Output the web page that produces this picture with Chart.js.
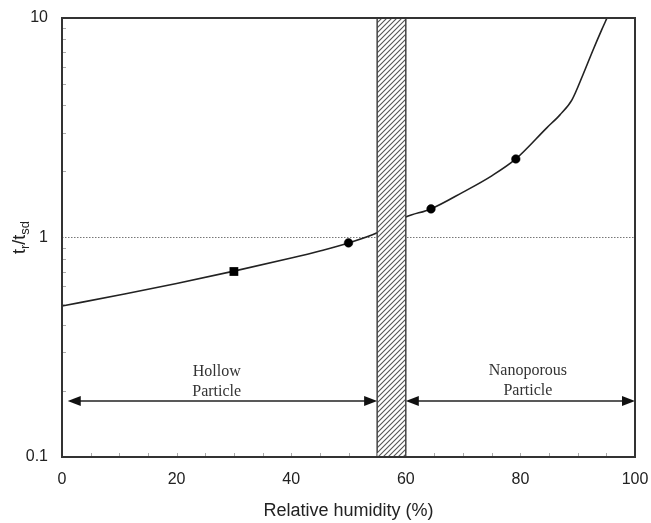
<!DOCTYPE html>
<html>
<head>
<meta charset="utf-8">
<script src="https://cdn.jsdelivr.net/npm/chart.js@4/dist/chart.umd.min.js"></script>
<style>
  html, body { margin: 0; padding: 0; background: #fff; }
  #wrap { width: 651px; height: 523px; }
</style>
</head>
<body>
<div id="wrap"><canvas id="chart" width="651" height="523"></canvas></div>
<script>
// Drying-time ratio curve versus relative humidity
const humidity = [0, 10, 20, 30, 40, 45, 50, 55, 60, 64.4, 70, 75, 79.2, 84.6, 86.9, 89, 90.9, 92.7, 94.2, 95.1];
const timeRatio = [0.487, 0.547, 0.617, 0.703, 0.806, 0.868, 0.944, 1.05, 1.24, 1.35, 1.61, 1.91, 2.28, 3.16, 3.62, 4.24, 5.5, 7.17, 8.85, 9.98];

// Measured points
const squareX = [30];
const squareY = [0.70];
const circleX = [50, 64.4, 79.2];
const circleY = [0.945, 1.35, 2.28];

// Reference line at ratio = 1
const refX = [0, 100];
const refY = [1, 1];

// Transition band and morphology regions
const bandRange = [55, 60];
const hollowRange = [1, 55];
const nanoRange = [60, 100];
const arrowLevel = [0.18];
const hollowLabel = ['Hollow', 'Particle'];
const nanoLabel = ['Nanoporous', 'Particle'];
const hollowLabelX = [27];
const nanoLabelX = [81.3];

// Axis ticks
const xTicks = [0, 20, 40, 60, 80, 100];
const yTicks = [0.1, 1, 10];
const xMinorStep = 5;
const yMinorMultipliers = [2, 3, 4, 5, 6, 7, 8, 9];

const xTitle = 'Relative humidity (%)';

function pts(xs, ys) { return xs.map((x, i) => ({ x: x, y: ys[i] })); }

function makeHatch(ctx) {
  const c = document.createElement('canvas');
  c.width = 5; c.height = 5;
  const g = c.getContext('2d');
  g.fillStyle = '#ffffff';
  g.fillRect(0, 0, 5, 5);
  g.strokeStyle = '#555555';
  g.lineWidth = 1.1;
  g.beginPath();
  g.moveTo(-1, 6); g.lineTo(6, -1);
  g.moveTo(-1, 1); g.lineTo(1, -1);
  g.moveTo(4, 6); g.lineTo(6, 4);
  g.stroke();
  return ctx.createPattern(c, 'repeat');
}

const overlay = {
  id: 'overlay',
  afterDatasetsDraw(chart) {
    const ctx = chart.ctx;
    const xs = chart.scales.x, ys = chart.scales.y;
    const area = chart.chartArea;
    ctx.save();

    // hatched transition band
    const bx0 = xs.getPixelForValue(bandRange[0]);
    const bx1 = xs.getPixelForValue(bandRange[1]);
    ctx.fillStyle = makeHatch(ctx);
    ctx.fillRect(bx0, area.top, bx1 - bx0, area.bottom - area.top);
    ctx.strokeStyle = '#444';
    ctx.lineWidth = 1.5;
    ctx.strokeRect(bx0, area.top, bx1 - bx0, area.bottom - area.top);

    // region arrows
    const ay = ys.getPixelForValue(arrowLevel[0]);
    function arrow(r) {
      const x0 = xs.getPixelForValue(r[0]);
      const x1 = xs.getPixelForValue(r[1]);
      const hl = 13, hw = 5;
      ctx.strokeStyle = '#222';
      ctx.fillStyle = '#111';
      ctx.lineWidth = 1.5;
      ctx.beginPath();
      ctx.moveTo(x0 + hl - 1, ay); ctx.lineTo(x1 - hl + 1, ay);
      ctx.stroke();
      ctx.beginPath();
      ctx.moveTo(x0, ay); ctx.lineTo(x0 + hl, ay - hw); ctx.lineTo(x0 + hl, ay + hw); ctx.closePath();
      ctx.fill();
      ctx.beginPath();
      ctx.moveTo(x1, ay); ctx.lineTo(x1 - hl, ay - hw); ctx.lineTo(x1 - hl, ay + hw); ctx.closePath();
      ctx.fill();
    }
    arrow(hollowRange);
    arrow(nanoRange);

    // region labels
    ctx.fillStyle = '#333';
    ctx.font = '16px "Liberation Serif", "Times New Roman", serif';
    ctx.textAlign = 'center';
    ctx.textBaseline = 'middle';
    const hx = xs.getPixelForValue(hollowLabelX[0]);
    const nx = xs.getPixelForValue(nanoLabelX[0]);
    ctx.fillText(hollowLabel[0], hx, ay - 29);
    ctx.fillText(hollowLabel[1], hx, ay - 9);
    ctx.fillText(nanoLabel[0], nx, ay - 30);
    ctx.fillText(nanoLabel[1], nx, ay - 10);

    // inward minor ticks
    ctx.strokeStyle = '#aaa';
    ctx.lineWidth = 1;
    ctx.beginPath();
    for (let v = xs.min + xMinorStep; v < xs.max; v += xMinorStep) {
      const px = Math.round(xs.getPixelForValue(v)) + 0.5;
      ctx.moveTo(px, area.bottom); ctx.lineTo(px, area.bottom - 4);
    }
    [0.1, 1].forEach(dec => {
      yMinorMultipliers.forEach(m => {
        const py = Math.round(ys.getPixelForValue(dec * m)) + 0.5;
        ctx.moveTo(area.left, py); ctx.lineTo(area.left + 4, py);
      });
    });
    ctx.stroke();

    // frame
    ctx.strokeStyle = '#333';
    ctx.lineWidth = 2;
    ctx.strokeRect(area.left, area.top, area.right - area.left, area.bottom - area.top);

    // x axis title
    ctx.fillStyle = '#222';
    ctx.font = '18px "Liberation Sans", Arial, sans-serif';
    ctx.textAlign = 'center';
    ctx.textBaseline = 'alphabetic';
    ctx.fillText(xTitle, (area.left + area.right) / 2, area.bottom + 59);

    // y axis title with subscripts: t_r / t_sd
    const cy = (area.top + area.bottom) / 2;
    ctx.translate(25, cy);
    ctx.rotate(-Math.PI / 2);
    const big = '18px "Liberation Sans", Arial, sans-serif';
    const small = '13px "Liberation Sans", Arial, sans-serif';
    const parts = [['t', big, 0], ['r', small, 4], ['/t', big, 0], ['sd', small, 4]];
    let total = 0;
    parts.forEach(p => { ctx.font = p[1]; total += ctx.measureText(p[0]).width; });
    let x = -total / 2;
    ctx.textAlign = 'left';
    parts.forEach(p => {
      ctx.font = p[1];
      ctx.fillText(p[0], x, p[2]);
      x += ctx.measureText(p[0]).width;
    });
    ctx.restore();
  }
};

new Chart(document.getElementById('chart'), {
  type: 'line',
  data: {
    datasets: [
      {
        data: pts(refX, refY),
        borderColor: '#777',
        borderWidth: 1,
        borderDash: [1.5, 1.5],
        pointRadius: 0,
        order: 3
      },
      {
        data: pts(humidity, timeRatio),
        borderColor: '#222',
        borderWidth: 1.6,
        cubicInterpolationMode: 'monotone',
        pointRadius: 0,
        order: 2
      },
      {
        data: pts(squareX, squareY),
        showLine: false,
        pointStyle: 'rect',
        pointRadius: 6.2,
        pointBackgroundColor: '#000',
        pointBorderColor: '#000',
        pointBorderWidth: 0,
        order: 1
      },
      {
        data: pts(circleX, circleY),
        showLine: false,
        pointStyle: 'circle',
        pointRadius: 4.3,
        pointBackgroundColor: '#000',
        pointBorderColor: '#000',
        pointBorderWidth: 0.5,
        order: 1
      }
    ]
  },
  options: {
    responsive: false,
    animation: false,
    layout: { padding: { top: 18, right: 16, left: 0, bottom: 0 } },
    plugins: { legend: { display: false }, tooltip: { enabled: false } },
    scales: {
      x: {
        type: 'linear',
        min: 0, max: 100,
        grid: { display: false, drawTicks: false, tickLength: 0 },
        border: { display: false },
        afterBuildTicks: s => { s.ticks = xTicks.map(v => ({ value: v })); },
        afterFit: s => { s.height = 66; s.paddingLeft = 0; s.paddingRight = 0; },
        ticks: {
          color: '#222',
          padding: 13,
          maxRotation: 0,
          font: { family: '"Liberation Sans", Arial, sans-serif', size: 16 },
          callback: v => String(v)
        }
      },
      y: {
        type: 'logarithmic',
        min: 0.1, max: 10,
        grid: { display: false, drawTicks: false, tickLength: 0 },
        border: { display: false },
        afterBuildTicks: s => { s.ticks = yTicks.map(v => ({ value: v })); },
        afterFit: s => { s.width = 62; s.paddingTop = 0; s.paddingBottom = 0; },
        ticks: {
          color: '#222',
          padding: 14,
          font: { family: '"Liberation Sans", Arial, sans-serif', size: 16 },
          callback: v => String(v)
        }
      }
    }
  },
  plugins: [overlay]
});
</script>
</body>
</html>
